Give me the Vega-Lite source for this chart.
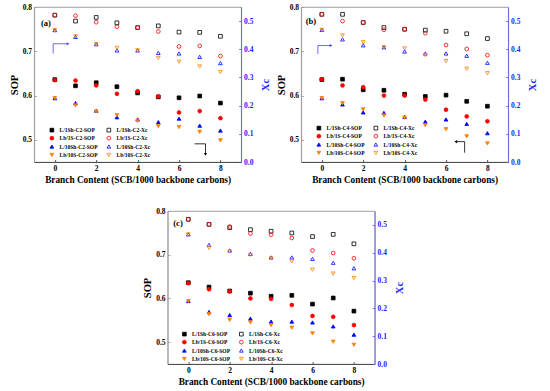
{
"$schema":"https://vega.github.io/schema/vega-lite/v6.json",
"padding":{"left":8,"right":0,"top":2,"bottom":2},
"config":{"font":"Liberation Serif","view":{"stroke":"#888","strokeWidth":0.8},
"axis":{"labelFont":"Liberation Serif","labelFontWeight":"bold","labelFontSize":7.5,"titleFont":"Liberation Serif","titleFontWeight":"bold","grid":false,"tickSize":-2.5,"labelPadding":5,"titlePadding":3,"domainColor":"#333","tickColor":"#333","labelColor":"#000","titleColor":"#000","domainWidth":0.8,"tickWidth":0.8},
"legend":{"labelFont":"Liberation Serif","labelFontWeight":"bold","labelFontSize":5.5,"symbolSize":14,"symbolStrokeWidth":0.8,"rowPadding":0.4,"columnPadding":7,"labelOffset":5}},
"datasets":{
"a":[
{"b":0,"s":"L/1Sh-C2-SOP","v":0.636},{"b":1,"s":"L/1Sh-C2-SOP","v":0.622},{"b":2,"s":"L/1Sh-C2-SOP","v":0.629},{"b":3,"s":"L/1Sh-C2-SOP","v":0.620},{"b":4,"s":"L/1Sh-C2-SOP","v":0.606},{"b":5,"s":"L/1Sh-C2-SOP","v":0.597},{"b":6,"s":"L/1Sh-C2-SOP","v":0.595},{"b":7,"s":"L/1Sh-C2-SOP","v":0.599},{"b":8,"s":"L/1Sh-C2-SOP","v":0.583},
{"b":0,"s":"Lb/1S-C2-SOP","v":0.635},{"b":1,"s":"Lb/1S-C2-SOP","v":0.634},{"b":2,"s":"Lb/1S-C2-SOP","v":0.623},{"b":3,"s":"Lb/1S-C2-SOP","v":0.604},{"b":4,"s":"Lb/1S-C2-SOP","v":0.610},{"b":5,"s":"Lb/1S-C2-SOP","v":0.598},{"b":6,"s":"Lb/1S-C2-SOP","v":0.562},{"b":7,"s":"Lb/1S-C2-SOP","v":0.565},{"b":8,"s":"Lb/1S-C2-SOP","v":0.549},
{"b":0,"s":"L/10Sh-C2-SOP","v":0.594},{"b":1,"s":"L/10Sh-C2-SOP","v":0.583},{"b":2,"s":"L/10Sh-C2-SOP","v":0.566},{"b":3,"s":"L/10Sh-C2-SOP","v":0.551},{"b":4,"s":"L/10Sh-C2-SOP","v":0.546},{"b":5,"s":"L/10Sh-C2-SOP","v":0.540},{"b":6,"s":"L/10Sh-C2-SOP","v":0.548},{"b":7,"s":"L/10Sh-C2-SOP","v":0.532},{"b":8,"s":"L/10Sh-C2-SOP","v":0.521},
{"b":0,"s":"Lb/10S-C2-SOP","v":0.594},{"b":1,"s":"Lb/10S-C2-SOP","v":0.578},{"b":2,"s":"Lb/10S-C2-SOP","v":0.564},{"b":3,"s":"Lb/10S-C2-SOP","v":0.556},{"b":4,"s":"Lb/10S-C2-SOP","v":0.543},{"b":5,"s":"Lb/10S-C2-SOP","v":0.531},{"b":6,"s":"Lb/10S-C2-SOP","v":0.529},{"b":7,"s":"Lb/10S-C2-SOP","v":0.518},{"b":8,"s":"Lb/10S-C2-SOP","v":0.499},
{"b":0,"s":"L/1Sh-C2-Xc","v":0.521},{"b":1,"s":"L/1Sh-C2-Xc","v":0.500},{"b":2,"s":"L/1Sh-C2-Xc","v":0.513},{"b":3,"s":"L/1Sh-C2-Xc","v":0.494},{"b":4,"s":"L/1Sh-C2-Xc","v":0.477},{"b":5,"s":"L/1Sh-C2-Xc","v":0.483},{"b":6,"s":"L/1Sh-C2-Xc","v":0.461},{"b":7,"s":"L/1Sh-C2-Xc","v":0.460},{"b":8,"s":"L/1Sh-C2-Xc","v":0.446},
{"b":0,"s":"Lb/1S-C2-Xc","v":0.521},{"b":1,"s":"Lb/1S-C2-Xc","v":0.519},{"b":2,"s":"Lb/1S-C2-Xc","v":0.496},{"b":3,"s":"Lb/1S-C2-Xc","v":0.480},{"b":4,"s":"Lb/1S-C2-Xc","v":0.477},{"b":5,"s":"Lb/1S-C2-Xc","v":0.463},{"b":6,"s":"Lb/1S-C2-Xc","v":0.410},{"b":7,"s":"Lb/1S-C2-Xc","v":0.412},{"b":8,"s":"Lb/1S-C2-Xc","v":0.376},
{"b":0,"s":"L/10Sh-C2-Xc","v":0.468},{"b":1,"s":"L/10Sh-C2-Xc","v":0.444},{"b":2,"s":"L/10Sh-C2-Xc","v":0.418},{"b":3,"s":"L/10Sh-C2-Xc","v":0.396},{"b":4,"s":"L/10Sh-C2-Xc","v":0.396},{"b":5,"s":"L/10Sh-C2-Xc","v":0.387},{"b":6,"s":"L/10Sh-C2-Xc","v":0.385},{"b":7,"s":"L/10Sh-C2-Xc","v":0.373},{"b":8,"s":"L/10Sh-C2-Xc","v":0.351},
{"b":0,"s":"Lb/10S-C2-Xc","v":0.468},{"b":1,"s":"Lb/10S-C2-Xc","v":0.446},{"b":2,"s":"Lb/10S-C2-Xc","v":0.418},{"b":3,"s":"Lb/10S-C2-Xc","v":0.405},{"b":4,"s":"Lb/10S-C2-Xc","v":0.396},{"b":5,"s":"Lb/10S-C2-Xc","v":0.369},{"b":6,"s":"Lb/10S-C2-Xc","v":0.356},{"b":7,"s":"Lb/10S-C2-Xc","v":0.339},{"b":8,"s":"Lb/10S-C2-Xc","v":0.319}
],
"b":[
{"b":0,"s":"L/1Sh-C4-SOP","v":0.636},{"b":1,"s":"L/1Sh-C4-SOP","v":0.637},{"b":2,"s":"L/1Sh-C4-SOP","v":0.613},{"b":3,"s":"L/1Sh-C4-SOP","v":0.612},{"b":4,"s":"L/1Sh-C4-SOP","v":0.603},{"b":5,"s":"L/1Sh-C4-SOP","v":0.598},{"b":6,"s":"L/1Sh-C4-SOP","v":0.601},{"b":7,"s":"L/1Sh-C4-SOP","v":0.587},{"b":8,"s":"L/1Sh-C4-SOP","v":0.576},
{"b":0,"s":"Lb/1S-C4-SOP","v":0.637},{"b":1,"s":"Lb/1S-C4-SOP","v":0.623},{"b":2,"s":"Lb/1S-C4-SOP","v":0.619},{"b":3,"s":"Lb/1S-C4-SOP","v":0.600},{"b":4,"s":"Lb/1S-C4-SOP","v":0.600},{"b":5,"s":"Lb/1S-C4-SOP","v":0.591},{"b":6,"s":"Lb/1S-C4-SOP","v":0.568},{"b":7,"s":"Lb/1S-C4-SOP","v":0.553},{"b":8,"s":"Lb/1S-C4-SOP","v":0.542},
{"b":0,"s":"L/10Sh-C4-SOP","v":0.594},{"b":1,"s":"L/10Sh-C4-SOP","v":0.580},{"b":2,"s":"L/10Sh-C4-SOP","v":0.562},{"b":3,"s":"L/10Sh-C4-SOP","v":0.561},{"b":4,"s":"L/10Sh-C4-SOP","v":0.552},{"b":5,"s":"L/10Sh-C4-SOP","v":0.541},{"b":6,"s":"L/10Sh-C4-SOP","v":0.546},{"b":7,"s":"L/10Sh-C4-SOP","v":0.536},{"b":8,"s":"L/10Sh-C4-SOP","v":0.515},
{"b":0,"s":"Lb/10S-C4-SOP","v":0.594},{"b":1,"s":"Lb/10S-C4-SOP","v":0.583},{"b":2,"s":"Lb/10S-C4-SOP","v":0.569},{"b":3,"s":"Lb/10S-C4-SOP","v":0.555},{"b":4,"s":"Lb/10S-C4-SOP","v":0.550},{"b":5,"s":"Lb/10S-C4-SOP","v":0.533},{"b":6,"s":"Lb/10S-C4-SOP","v":0.524},{"b":7,"s":"Lb/10S-C4-SOP","v":0.508},{"b":8,"s":"Lb/10S-C4-SOP","v":0.492},
{"b":0,"s":"L/1Sh-C4-Xc","v":0.524},{"b":1,"s":"L/1Sh-C4-Xc","v":0.524},{"b":2,"s":"L/1Sh-C4-Xc","v":0.495},{"b":3,"s":"L/1Sh-C4-Xc","v":0.477},{"b":4,"s":"L/1Sh-C4-Xc","v":0.471},{"b":5,"s":"L/1Sh-C4-Xc","v":0.468},{"b":6,"s":"L/1Sh-C4-Xc","v":0.464},{"b":7,"s":"L/1Sh-C4-Xc","v":0.455},{"b":8,"s":"L/1Sh-C4-Xc","v":0.438},
{"b":0,"s":"Lb/1S-C4-Xc","v":0.524},{"b":1,"s":"Lb/1S-C4-Xc","v":0.500},{"b":2,"s":"Lb/1S-C4-Xc","v":0.495},{"b":3,"s":"Lb/1S-C4-Xc","v":0.469},{"b":4,"s":"Lb/1S-C4-Xc","v":0.471},{"b":5,"s":"Lb/1S-C4-Xc","v":0.457},{"b":6,"s":"Lb/1S-C4-Xc","v":0.415},{"b":7,"s":"Lb/1S-C4-Xc","v":0.401},{"b":8,"s":"Lb/1S-C4-Xc","v":0.379},
{"b":0,"s":"L/10Sh-C4-Xc","v":0.469},{"b":1,"s":"L/10Sh-C4-Xc","v":0.435},{"b":2,"s":"L/10Sh-C4-Xc","v":0.414},{"b":3,"s":"L/10Sh-C4-Xc","v":0.407},{"b":4,"s":"L/10Sh-C4-Xc","v":0.392},{"b":5,"s":"L/10Sh-C4-Xc","v":0.385},{"b":6,"s":"L/10Sh-C4-Xc","v":0.385},{"b":7,"s":"L/10Sh-C4-Xc","v":0.377},{"b":8,"s":"L/10Sh-C4-Xc","v":0.352},
{"b":0,"s":"Lb/10S-C4-Xc","v":0.469},{"b":1,"s":"Lb/10S-C4-Xc","v":0.449},{"b":2,"s":"Lb/10S-C4-Xc","v":0.425},{"b":3,"s":"Lb/10S-C4-Xc","v":0.407},{"b":4,"s":"Lb/10S-C4-Xc","v":0.403},{"b":5,"s":"Lb/10S-C4-Xc","v":0.379},{"b":6,"s":"Lb/10S-C4-Xc","v":0.358},{"b":7,"s":"Lb/10S-C4-Xc","v":0.331},{"b":8,"s":"Lb/10S-C4-Xc","v":0.315}
],
"c":[
{"b":0,"s":"L/1Sh-C6-SOP","v":0.636},{"b":1,"s":"L/1Sh-C6-SOP","v":0.626},{"b":2,"s":"L/1Sh-C6-SOP","v":0.617},{"b":3,"s":"L/1Sh-C6-SOP","v":0.612},{"b":4,"s":"L/1Sh-C6-SOP","v":0.605},{"b":5,"s":"L/1Sh-C6-SOP","v":0.607},{"b":6,"s":"L/1Sh-C6-SOP","v":0.587},{"b":7,"s":"L/1Sh-C6-SOP","v":0.601},{"b":8,"s":"L/1Sh-C6-SOP","v":0.571},
{"b":0,"s":"Lb/1S-C6-SOP","v":0.635},{"b":1,"s":"Lb/1S-C6-SOP","v":0.621},{"b":2,"s":"Lb/1S-C6-SOP","v":0.616},{"b":3,"s":"Lb/1S-C6-SOP","v":0.600},{"b":4,"s":"Lb/1S-C6-SOP","v":0.599},{"b":5,"s":"Lb/1S-C6-SOP","v":0.585},{"b":6,"s":"Lb/1S-C6-SOP","v":0.560},{"b":7,"s":"Lb/1S-C6-SOP","v":0.558},{"b":8,"s":"Lb/1S-C6-SOP","v":0.539},
{"b":0,"s":"L/10Sh-C6-SOP","v":0.594},{"b":1,"s":"L/10Sh-C6-SOP","v":0.569},{"b":2,"s":"L/10Sh-C6-SOP","v":0.562},{"b":3,"s":"L/10Sh-C6-SOP","v":0.554},{"b":4,"s":"L/10Sh-C6-SOP","v":0.547},{"b":5,"s":"L/10Sh-C6-SOP","v":0.547},{"b":6,"s":"L/10Sh-C6-SOP","v":0.545},{"b":7,"s":"L/10Sh-C6-SOP","v":0.536},{"b":8,"s":"L/10Sh-C6-SOP","v":0.517},
{"b":0,"s":"Lb/10S-C6-SOP","v":0.594},{"b":1,"s":"Lb/10S-C6-SOP","v":0.564},{"b":2,"s":"Lb/10S-C6-SOP","v":0.551},{"b":3,"s":"Lb/10S-C6-SOP","v":0.545},{"b":4,"s":"Lb/10S-C6-SOP","v":0.539},{"b":5,"s":"Lb/10S-C6-SOP","v":0.533},{"b":6,"s":"Lb/10S-C6-SOP","v":0.520},{"b":7,"s":"Lb/10S-C6-SOP","v":0.501},{"b":8,"s":"Lb/10S-C6-SOP","v":0.494},
{"b":0,"s":"L/1Sh-C6-Xc","v":0.520},{"b":1,"s":"L/1Sh-C6-Xc","v":0.502},{"b":2,"s":"L/1Sh-C6-Xc","v":0.490},{"b":3,"s":"L/1Sh-C6-Xc","v":0.483},{"b":4,"s":"L/1Sh-C6-Xc","v":0.477},{"b":5,"s":"L/1Sh-C6-Xc","v":0.471},{"b":6,"s":"L/1Sh-C6-Xc","v":0.458},{"b":7,"s":"L/1Sh-C6-Xc","v":0.466},{"b":8,"s":"L/1Sh-C6-Xc","v":0.432},
{"b":0,"s":"Lb/1S-C6-Xc","v":0.520},{"b":1,"s":"Lb/1S-C6-Xc","v":0.502},{"b":2,"s":"Lb/1S-C6-Xc","v":0.494},{"b":3,"s":"Lb/1S-C6-Xc","v":0.469},{"b":4,"s":"Lb/1S-C6-Xc","v":0.465},{"b":5,"s":"Lb/1S-C6-Xc","v":0.453},{"b":6,"s":"Lb/1S-C6-Xc","v":0.408},{"b":7,"s":"Lb/1S-C6-Xc","v":0.399},{"b":8,"s":"Lb/1S-C6-Xc","v":0.380},
{"b":0,"s":"L/10Sh-C6-Xc","v":0.466},{"b":1,"s":"L/10Sh-C6-Xc","v":0.428},{"b":2,"s":"L/10Sh-C6-Xc","v":0.408},{"b":3,"s":"L/10Sh-C6-Xc","v":0.396},{"b":4,"s":"L/10Sh-C6-Xc","v":0.383},{"b":5,"s":"L/10Sh-C6-Xc","v":0.383},{"b":6,"s":"L/10Sh-C6-Xc","v":0.378},{"b":7,"s":"L/10Sh-C6-Xc","v":0.364},{"b":8,"s":"L/10Sh-C6-Xc","v":0.344},
{"b":0,"s":"Lb/10S-C6-Xc","v":0.466},{"b":1,"s":"Lb/10S-C6-Xc","v":0.417},{"b":2,"s":"Lb/10S-C6-Xc","v":0.405},{"b":3,"s":"Lb/10S-C6-Xc","v":0.392},{"b":4,"s":"Lb/10S-C6-Xc","v":0.380},{"b":5,"s":"Lb/10S-C6-Xc","v":0.369},{"b":6,"s":"Lb/10S-C6-Xc","v":0.339},{"b":7,"s":"Lb/10S-C6-Xc","v":0.325},{"b":8,"s":"Lb/10S-C6-Xc","v":0.309}
]},
"center":true,
"spacing":21,
"resolve":{"scale":{"shape":"independent","fill":"independent","stroke":"independent"},"legend":{"shape":"independent","fill":"independent","stroke":"independent"}},
"vconcat":[
{"hconcat":[
{"width":207,"height":155,"data":{"name":"a"},
"layer":[
{"layer":[
{"transform":[{"filter":"indexof(datum.s,'SOP')>0"}],"mark":{"type":"point","size":14,"strokeWidth":0.8,"opacity":1},
"encoding":{
"x":{"field":"b","type":"quantitative","scale":{"domain":[-1,9],"nice":false,"zero":false},"axis":{"values":[0,2,4,6,8],"title":"Branch Content (SCB/1000 backbone carbons)","titleFontSize":9.3}},
"y":{"field":"v","type":"quantitative","scale":{"domain":[0.45,0.8],"nice":false,"zero":false},"axis":{"values":[0.5,0.6,0.7,0.8],"format":".1f","title":"SOP","titleFontSize":10.5,"domainColor":"#999","tickColor":"#999"}},
"shape":{"field":"s","type":"nominal","scale":{"domain":["L/1Sh-C2-SOP","Lb/1S-C2-SOP","L/10Sh-C2-SOP","Lb/10S-C2-SOP","L/1Sh-C2-Xc","Lb/1S-C2-Xc","L/10Sh-C2-Xc","Lb/10S-C2-Xc"],"range":["square","circle","triangle-up","triangle-down","square","circle","triangle-up","triangle-down"]},"legend":{"orient":"none","legendX":15,"legendY":120,"columns":2,"title":null}},
"fill":{"field":"s","type":"nominal","scale":{"domain":["L/1Sh-C2-SOP","Lb/1S-C2-SOP","L/10Sh-C2-SOP","Lb/10S-C2-SOP","L/1Sh-C2-Xc","Lb/1S-C2-Xc","L/10Sh-C2-Xc","Lb/10S-C2-Xc"],"range":["#000000","#ff0000","#0000ff","#ff8000","transparent","transparent","transparent","transparent"]},"legend":{"orient":"none","legendX":15,"legendY":120,"columns":2,"title":null}},
"stroke":{"field":"s","type":"nominal","scale":{"domain":["L/1Sh-C2-SOP","Lb/1S-C2-SOP","L/10Sh-C2-SOP","Lb/10S-C2-SOP","L/1Sh-C2-Xc","Lb/1S-C2-Xc","L/10Sh-C2-Xc","Lb/10S-C2-Xc"],"range":["#000000","#ff0000","#0000ff","#ff8000","#000000","#ff0000","#0000ff","#ff8000"]},"legend":{"orient":"none","legendX":15,"legendY":120,"columns":2,"title":null}}}},
{"data":{"values":[{}]},"mark":{"type":"text","align":"left","fontWeight":"bold","fontSize":8.6,"font":"Liberation Serif"},"encoding":{"x":{"datum":-0.67},"y":{"datum":0.764},"text":{"value":"(a)"}}},
{"data":{"values":[{"b":-0.08,"v":0.695,"o":0},{"b":-0.08,"v":0.717,"o":1},{"b":0.6,"v":0.717,"o":2}]},"mark":{"type":"line","color":"#4444ff","strokeWidth":0.8},"encoding":{"x":{"field":"b","type":"quantitative"},"y":{"field":"v","type":"quantitative"},"order":{"field":"o"}}},
{"data":{"values":[{"b":0.64,"v":0.717}]},"mark":{"type":"point","shape":"triangle-right","filled":true,"color":"#4444ff","size":10,"opacity":1},"encoding":{"x":{"field":"b","type":"quantitative"},"y":{"field":"v","type":"quantitative"}}},
{"data":{"values":[{"b":6.75,"v":0.491,"o":0},{"b":7.28,"v":0.491,"o":1},{"b":7.28,"v":0.47,"o":2}]},"mark":{"type":"line","color":"#000000","strokeWidth":0.8},"encoding":{"x":{"field":"b","type":"quantitative"},"y":{"field":"v","type":"quantitative"},"order":{"field":"o"}}},
{"data":{"values":[{"b":7.28,"v":0.467}]},"mark":{"type":"point","shape":"triangle-down","filled":true,"color":"#000000","size":10,"opacity":1},"encoding":{"x":{"field":"b","type":"quantitative"},"y":{"field":"v","type":"quantitative"}}}
]},
{"transform":[{"filter":"indexof(datum.s,'Xc')>0"}],"mark":{"type":"point","size":14,"strokeWidth":0.8,"opacity":1},
"encoding":{
"x":{"field":"b","type":"quantitative"},
"y":{"field":"v","type":"quantitative","scale":{"domain":[0,0.55],"nice":false,"zero":false},"axis":{"orient":"right","values":[0,0.1,0.2,0.3,0.4,0.5],"format":".1f","title":"Xc","titleAngle":270,"titleBaseline":"top","titlePadding":8,"titleFontSize":10.5,"domainColor":"#5555ff","tickColor":"#5555ff","labelColor":"#2222ff","titleColor":"#2222ff"}},
"shape":{"field":"s","type":"nominal"},"fill":{"field":"s","type":"nominal"},"stroke":{"field":"s","type":"nominal"}}}
],
"resolve":{"scale":{"y":"independent"}}},
{"width":207,"height":155,"data":{"name":"b"},
"layer":[
{"layer":[
{"transform":[{"filter":"indexof(datum.s,'SOP')>0"}],"mark":{"type":"point","size":14,"strokeWidth":0.8,"opacity":1},
"encoding":{
"x":{"field":"b","type":"quantitative","scale":{"domain":[-1,9],"nice":false,"zero":false},"axis":{"values":[0,2,4,6,8],"title":"Branch Content (SCB/1000 backbone carbons)","titleFontSize":9.3}},
"y":{"field":"v","type":"quantitative","scale":{"domain":[0.45,0.8],"nice":false,"zero":false},"axis":{"values":[0.5,0.6,0.7,0.8],"format":".1f","title":"SOP","titleFontSize":10.5,"domainColor":"#999","tickColor":"#999"}},
"shape":{"field":"s","type":"nominal","scale":{"domain":["L/1Sh-C4-SOP","Lb/1S-C4-SOP","L/10Sh-C4-SOP","Lb/10S-C4-SOP","L/1Sh-C4-Xc","Lb/1S-C4-Xc","L/10Sh-C4-Xc","Lb/10S-C4-Xc"],"range":["square","circle","triangle-up","triangle-down","square","circle","triangle-up","triangle-down"]},"legend":{"orient":"none","legendX":15,"legendY":118,"columns":2,"title":null}},
"fill":{"field":"s","type":"nominal","scale":{"domain":["L/1Sh-C4-SOP","Lb/1S-C4-SOP","L/10Sh-C4-SOP","Lb/10S-C4-SOP","L/1Sh-C4-Xc","Lb/1S-C4-Xc","L/10Sh-C4-Xc","Lb/10S-C4-Xc"],"range":["#000000","#ff0000","#0000ff","#ff8000","transparent","transparent","transparent","transparent"]},"legend":{"orient":"none","legendX":15,"legendY":118,"columns":2,"title":null}},
"stroke":{"field":"s","type":"nominal","scale":{"domain":["L/1Sh-C4-SOP","Lb/1S-C4-SOP","L/10Sh-C4-SOP","Lb/10S-C4-SOP","L/1Sh-C4-Xc","Lb/1S-C4-Xc","L/10Sh-C4-Xc","Lb/10S-C4-Xc"],"range":["#000000","#ff0000","#0000ff","#ff8000","#000000","#ff0000","#0000ff","#ff8000"]},"legend":{"orient":"none","legendX":15,"legendY":118,"columns":2,"title":null}}}},
{"data":{"values":[{}]},"mark":{"type":"text","align":"left","fontWeight":"bold","fontSize":8.6,"font":"Liberation Serif"},"encoding":{"x":{"datum":-0.78},"y":{"datum":0.768},"text":{"value":"(b)"}}},
{"data":{"values":[{"b":-0.19,"v":0.694,"o":0},{"b":-0.19,"v":0.713,"o":1},{"b":0.42,"v":0.713,"o":2}]},"mark":{"type":"line","color":"#4444ff","strokeWidth":0.8},"encoding":{"x":{"field":"b","type":"quantitative"},"y":{"field":"v","type":"quantitative"},"order":{"field":"o"}}},
{"data":{"values":[{"b":0.45,"v":0.713}]},"mark":{"type":"point","shape":"triangle-right","filled":true,"color":"#4444ff","size":10,"opacity":1},"encoding":{"x":{"field":"b","type":"quantitative"},"y":{"field":"v","type":"quantitative"}}},
{"data":{"values":[{"b":6.5,"v":0.496,"o":0},{"b":6.9,"v":0.496,"o":1},{"b":6.9,"v":0.471,"o":2}]},"mark":{"type":"line","color":"#000000","strokeWidth":0.8},"encoding":{"x":{"field":"b","type":"quantitative"},"y":{"field":"v","type":"quantitative"},"order":{"field":"o"}}},
{"data":{"values":[{"b":6.47,"v":0.496}]},"mark":{"type":"point","shape":"triangle-left","filled":true,"color":"#000000","size":10,"opacity":1},"encoding":{"x":{"field":"b","type":"quantitative"},"y":{"field":"v","type":"quantitative"}}}
]},
{"transform":[{"filter":"indexof(datum.s,'Xc')>0"}],"mark":{"type":"point","size":14,"strokeWidth":0.8,"opacity":1},
"encoding":{
"x":{"field":"b","type":"quantitative"},
"y":{"field":"v","type":"quantitative","scale":{"domain":[0,0.55],"nice":false,"zero":false},"axis":{"orient":"right","values":[0,0.1,0.2,0.3,0.4,0.5],"format":".1f","title":"Xc","titleAngle":270,"titleBaseline":"top","titlePadding":8,"titleFontSize":10.5,"domainColor":"#5555ff","tickColor":"#5555ff","labelColor":"#2222ff","titleColor":"#2222ff"}},
"shape":{"field":"s","type":"nominal"},"fill":{"field":"s","type":"nominal"},"stroke":{"field":"s","type":"nominal"}}}
],
"resolve":{"scale":{"y":"independent"}}}
],"spacing":3,
"resolve":{"scale":{"shape":"independent","fill":"independent","stroke":"independent"},"legend":{"shape":"independent","fill":"independent","stroke":"independent"}}},
{"width":207,"height":153,"data":{"name":"c"},
"layer":[
{"layer":[
{"transform":[{"filter":"indexof(datum.s,'SOP')>0"}],"mark":{"type":"point","size":14,"strokeWidth":0.8,"opacity":1},
"encoding":{
"x":{"field":"b","type":"quantitative","scale":{"domain":[-1,9],"nice":false,"zero":false},"axis":{"values":[0,2,4,6,8],"title":"Branch Content (SCB/1000 backbone carbons)","titleFontSize":9.3}},
"y":{"field":"v","type":"quantitative","scale":{"domain":[0.45,0.8],"nice":false,"zero":false},"axis":{"values":[0.5,0.6,0.7,0.8],"format":".1f","title":"SOP","titleFontSize":10.5,"domainColor":"#999","tickColor":"#999"}},
"shape":{"field":"s","type":"nominal","scale":{"domain":["L/1Sh-C6-SOP","Lb/1S-C6-SOP","L/10Sh-C6-SOP","Lb/10S-C6-SOP","L/1Sh-C6-Xc","Lb/1S-C6-Xc","L/10Sh-C6-Xc","Lb/10S-C6-Xc"],"range":["square","circle","triangle-up","triangle-down","square","circle","triangle-up","triangle-down"]},"legend":{"orient":"none","legendX":14,"legendY":120,"columns":2,"title":null}},
"fill":{"field":"s","type":"nominal","scale":{"domain":["L/1Sh-C6-SOP","Lb/1S-C6-SOP","L/10Sh-C6-SOP","Lb/10S-C6-SOP","L/1Sh-C6-Xc","Lb/1S-C6-Xc","L/10Sh-C6-Xc","Lb/10S-C6-Xc"],"range":["#000000","#ff0000","#0000ff","#ff8000","transparent","transparent","transparent","transparent"]},"legend":{"orient":"none","legendX":14,"legendY":120,"columns":2,"title":null}},
"stroke":{"field":"s","type":"nominal","scale":{"domain":["L/1Sh-C6-SOP","Lb/1S-C6-SOP","L/10Sh-C6-SOP","Lb/10S-C6-SOP","L/1Sh-C6-Xc","Lb/1S-C6-Xc","L/10Sh-C6-Xc","Lb/10S-C6-Xc"],"range":["#000000","#ff0000","#0000ff","#ff8000","#000000","#ff0000","#0000ff","#ff8000"]},"legend":{"orient":"none","legendX":14,"legendY":120,"columns":2,"title":null}}}},
{"data":{"values":[{}]},"mark":{"type":"text","align":"left","fontWeight":"bold","fontSize":8.6,"font":"Liberation Serif"},"encoding":{"x":{"datum":-0.73},"y":{"datum":0.773},"text":{"value":"(c)"}}}
]},
{"transform":[{"filter":"indexof(datum.s,'Xc')>0"}],"mark":{"type":"point","size":14,"strokeWidth":0.8,"opacity":1},
"encoding":{
"x":{"field":"b","type":"quantitative"},
"y":{"field":"v","type":"quantitative","scale":{"domain":[0,0.55],"nice":false,"zero":false},"axis":{"orient":"right","values":[0,0.1,0.2,0.3,0.4,0.5],"format":".1f","title":"Xc","titleAngle":270,"titleBaseline":"top","titlePadding":8,"titleFontSize":10.5,"domainColor":"#5555ff","tickColor":"#5555ff","labelColor":"#2222ff","titleColor":"#2222ff"}},
"shape":{"field":"s","type":"nominal"},"fill":{"field":"s","type":"nominal"},"stroke":{"field":"s","type":"nominal"}}}
],
"resolve":{"scale":{"y":"independent"}}}
]
}
